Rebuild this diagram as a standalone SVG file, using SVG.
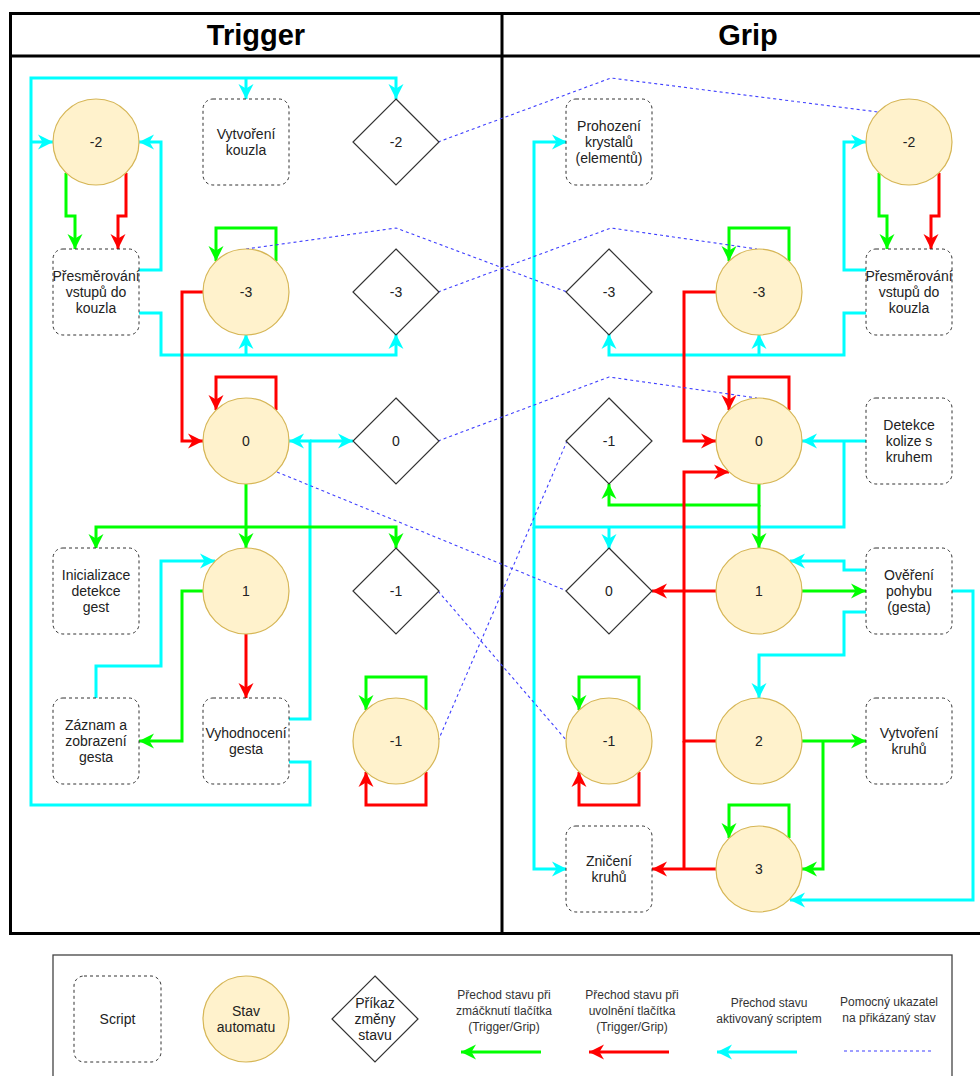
<svg xmlns="http://www.w3.org/2000/svg" width="980" height="1076" viewBox="0 0 980 1076">
<style>
text{font-family:"Liberation Sans",Arial,Helvetica,sans-serif;}
.lbl{font-size:14px;fill:#222;text-anchor:middle;}
.hdr{font-size:29px;font-weight:bold;fill:#000;text-anchor:middle;}
.leg{font-size:12px;fill:#333;text-anchor:middle;}
.panel{fill:none;stroke:#000;stroke-width:3;}
.box{fill:#fff;stroke:#333;stroke-width:1;stroke-dasharray:3 3;}
.state{fill:#fff2cc;stroke:#d6b656;stroke-width:1.2;}
.cmd{fill:#fff;stroke:#333;stroke-width:1.2;}
.g{fill:none;stroke:#00ff00;stroke-width:3;}
.r{fill:none;stroke:#ff0000;stroke-width:3;}
.c{fill:none;stroke:#00ffff;stroke-width:3;}
.ga{marker-end:url(#ag);}
.ra{marker-end:url(#ar);}
.ca{marker-end:url(#ac);}
.ptr{fill:none;stroke:#3f3fff;stroke-width:1.1;stroke-dasharray:3 3;}
</style>
<defs>
<marker id="ag" viewBox="0 0 16 16" refX="15" refY="8" markerWidth="16" markerHeight="16" markerUnits="userSpaceOnUse" orient="auto"><path d="M0,0.5 L15,8 L0,15.5 L4.5,8 Z" fill="#00ff00"/></marker>
<marker id="ar" viewBox="0 0 16 16" refX="15" refY="8" markerWidth="16" markerHeight="16" markerUnits="userSpaceOnUse" orient="auto"><path d="M0,0.5 L15,8 L0,15.5 L4.5,8 Z" fill="#ff0000"/></marker>
<marker id="ac" viewBox="0 0 16 16" refX="15" refY="8" markerWidth="16" markerHeight="16" markerUnits="userSpaceOnUse" orient="auto"><path d="M0,0.5 L15,8 L0,15.5 L4.5,8 Z" fill="#00ffff"/></marker>
</defs>
<rect width="980" height="1076" fill="#fff"/>

<g id="panels">
<rect class="panel" x="10.5" y="13.5" width="984" height="920"/>
<line class="panel" x1="10.5" y1="56" x2="995" y2="56"/>
<line class="panel" x1="502" y1="13.5" x2="502" y2="933.5"/>
<text class="hdr" x="256" y="45">Trigger</text>
<text class="hdr" x="748" y="45">Grip</text>
</g>

<g id="connectors">
<!-- Trigger -->
<path class="c" d="M289,762 H310 V805 H31 V78 H396 V99" marker-end="url(#ac)"/>
<path class="c ca" d="M31,142 H53"/>
<path class="c ca" d="M246,78 V99"/>
<path class="c ca" d="M139,270 H161 V142 H139"/>
<path class="c ca" d="M139,313 H161 V355 H396 V334"/>
<path class="c ca" d="M246,355 V334"/>
<path class="g ga" d="M66,173 V216 H75 V249"/>
<path class="r ra" d="M126,173 V216 H118 V249"/>
<path class="g ga" d="M276,261 V228 H216 V261"/>
<path class="r ra" d="M203,292 H182 V441 H203"/>
<path class="r ra" d="M276,410 V377 H216 V410"/>
<path class="c ca" d="M289,719 H310 V441 H289"/>
<path class="c ca" d="M310,441 H353"/>
<path class="g ga" d="M246,484 V527 H96 V549"/>
<path class="g ga" d="M246,527 V548"/>
<path class="g ga" d="M246,527 H396 V548"/>
<path class="c ca" d="M96,698 V666 H161 V561 H215"/>
<path class="g ga" d="M203,591 H182 V741 H139"/>
<path class="r ra" d="M246,634 V698"/>
<path class="g ga" d="M426,710 V677 H366 V710"/>
<path class="r ra" d="M426,772 V805 H366 V772"/>
<!-- Grip -->
<path class="c ca" d="M866,441 H802"/>
<path class="c ca" d="M844,441 V527 H534 V142 H567"/>
<path class="c ca" d="M609,527 V549"/>
<path class="c ca" d="M534,527 V869 H567"/>
<path class="c ca" d="M866,270 H844 V142 H866"/>
<path class="c ca" d="M866,313 H844 V355 H609 V334"/>
<path class="c ca" d="M759,355 V334"/>
<path class="g ga" d="M879,173 V216 H887 V249"/>
<path class="r ra" d="M939,173 V216 H931 V249"/>
<path class="g ga" d="M789,261 V228 H729 V261"/>
<path class="r ra" d="M716,292 H684 V441 H716"/>
<path class="r ra" d="M789,410 V377 H729 V410"/>
<path class="g ga" d="M759,484 V505 H609 V484"/>
<path class="g ga" d="M759,505 V548"/>
<path class="r ra" d="M716,741 H684 V472 H729"/>
<path class="r" d="M684,741 V869"/>
<path class="r ra" d="M716,869 H652"/>
<path class="r ra" d="M716,591 H652"/>
<path class="g ga" d="M802,591 H866"/>
<path class="c ca" d="M866,570 H844 V561 H790"/>
<path class="c ca" d="M866,612 H844 V655 H759 V698"/>
<path class="c ca" d="M952,591 H973 V900 H790"/>
<path class="g ga" d="M802,741 H866"/>
<path class="g ga" d="M823,741 V869 H802"/>
<path class="g ga" d="M789,838 V805 H729 V838"/>
<path class="g ga" d="M639,710 V677 H579 V710"/>
<path class="r ra" d="M639,772 V805 H579 V772"/>
<!-- pointers -->
<path class="ptr" d="M438,142 L611,78 L878,112"/>
<path class="ptr" d="M246,249 L396,228 L567,292"/>
<path class="ptr" d="M438,292 L611,228 L757,249"/>
<path class="ptr" d="M438,441 L609,377 L757,398"/>
<path class="ptr" d="M277,472 L567,591"/>
<path class="ptr" d="M438,591 L567,741"/>
<path class="ptr" d="M438,741 L567,441"/>
</g>

<!-- Trigger nodes -->
<g id="t-vytvoreni-kouzla"><rect class="box" x="203" y="99" width="86" height="86" rx="10"/><text class="lbl" x="246" y="139">Vytvoření</text><text class="lbl" x="246" y="155">kouzla</text></g>
<g id="t-state-m2"><circle class="state" cx="96" cy="142" r="43"/><text class="lbl" x="96" y="147">-2</text></g>
<g id="t-cmd-m2"><polygon class="cmd" points="396,99 439,142 396,185 353,142"/><text class="lbl" x="396" y="147">-2</text></g>
<g id="t-presmerovani"><rect class="box" x="53" y="249" width="86" height="86" rx="10"/><text class="lbl" x="96" y="281">Přesměrování</text><text class="lbl" x="96" y="297">vstupů do</text><text class="lbl" x="96" y="313">kouzla</text></g>
<g id="t-state-m3"><circle class="state" cx="246" cy="292" r="43"/><text class="lbl" x="246" y="297">-3</text></g>
<g id="t-cmd-m3"><polygon class="cmd" points="396,249 439,292 396,335 353,292"/><text class="lbl" x="396" y="297">-3</text></g>
<g id="t-state-0"><circle class="state" cx="246" cy="441" r="43"/><text class="lbl" x="246" y="446">0</text></g>
<g id="t-cmd-0"><polygon class="cmd" points="396,398 439,441 396,484 353,441"/><text class="lbl" x="396" y="446">0</text></g>
<g id="t-inicializace"><rect class="box" x="53" y="548" width="86" height="86" rx="10"/><text class="lbl" x="96" y="580">Inicializace</text><text class="lbl" x="96" y="596">detekce</text><text class="lbl" x="96" y="612">gest</text></g>
<g id="t-state-1"><circle class="state" cx="246" cy="591" r="43"/><text class="lbl" x="246" y="596">1</text></g>
<g id="t-cmd-m1"><polygon class="cmd" points="396,548 439,591 396,634 353,591"/><text class="lbl" x="396" y="596">-1</text></g>
<g id="t-zaznam"><rect class="box" x="53" y="698" width="86" height="86" rx="10"/><text class="lbl" x="96" y="730">Záznam a</text><text class="lbl" x="96" y="746">zobrazení</text><text class="lbl" x="96" y="762">gesta</text></g>
<g id="t-vyhodnoceni"><rect class="box" x="203" y="698" width="86" height="86" rx="10"/><text class="lbl" x="246" y="738">Vyhodnocení</text><text class="lbl" x="246" y="754">gesta</text></g>
<g id="t-state-m1"><circle class="state" cx="396" cy="741" r="43"/><text class="lbl" x="396" y="746">-1</text></g>

<!-- Grip nodes -->
<g id="g-prohozeni"><rect class="box" x="566" y="99" width="86" height="86" rx="10"/><text class="lbl" x="609" y="131">Prohození</text><text class="lbl" x="609" y="147">krystalů</text><text class="lbl" x="609" y="163">(elementů)</text></g>
<g id="g-state-m2"><circle class="state" cx="909" cy="142" r="43"/><text class="lbl" x="909" y="147">-2</text></g>
<g id="g-cmd-m3"><polygon class="cmd" points="609,249 652,292 609,335 566,292"/><text class="lbl" x="609" y="297">-3</text></g>
<g id="g-state-m3"><circle class="state" cx="759" cy="292" r="43"/><text class="lbl" x="759" y="297">-3</text></g>
<g id="g-presmerovani"><rect class="box" x="866" y="249" width="86" height="86" rx="10"/><text class="lbl" x="909" y="281">Přesměrování</text><text class="lbl" x="909" y="297">vstupů do</text><text class="lbl" x="909" y="313">kouzla</text></g>
<g id="g-cmd-m1"><polygon class="cmd" points="609,398 652,441 609,484 566,441"/><text class="lbl" x="609" y="446">-1</text></g>
<g id="g-state-0"><circle class="state" cx="759" cy="441" r="43"/><text class="lbl" x="759" y="446">0</text></g>
<g id="g-detekce"><rect class="box" x="866" y="398" width="86" height="86" rx="10"/><text class="lbl" x="909" y="430">Detekce</text><text class="lbl" x="909" y="446">kolize s</text><text class="lbl" x="909" y="462">kruhem</text></g>
<g id="g-cmd-0"><polygon class="cmd" points="609,548 652,591 609,634 566,591"/><text class="lbl" x="609" y="596">0</text></g>
<g id="g-state-1"><circle class="state" cx="759" cy="591" r="43"/><text class="lbl" x="759" y="596">1</text></g>
<g id="g-overeni"><rect class="box" x="866" y="548" width="86" height="86" rx="10"/><text class="lbl" x="909" y="580">Ověření</text><text class="lbl" x="909" y="596">pohybu</text><text class="lbl" x="909" y="612">(gesta)</text></g>
<g id="g-state-m1"><circle class="state" cx="609" cy="741" r="43"/><text class="lbl" x="609" y="746">-1</text></g>
<g id="g-state-2"><circle class="state" cx="759" cy="741" r="43"/><text class="lbl" x="759" y="746">2</text></g>
<g id="g-vytvoreni-kruhu"><rect class="box" x="866" y="698" width="86" height="86" rx="10"/><text class="lbl" x="909" y="738">Vytvoření</text><text class="lbl" x="909" y="754">kruhů</text></g>
<g id="g-zniceni"><rect class="box" x="566" y="826" width="86" height="86" rx="10"/><text class="lbl" x="609" y="866">Zničení</text><text class="lbl" x="609" y="882">kruhů</text></g>
<g id="g-state-3"><circle class="state" cx="759" cy="869" r="43"/><text class="lbl" x="759" y="874">3</text></g>

<!-- Legend -->
<g id="legend">
<rect x="53" y="955" width="899" height="130" fill="#fff" stroke="#444" stroke-width="1.3"/>
<g id="leg-script"><rect class="box" x="74" y="976" width="87" height="86" rx="10"/><text class="lbl" x="117.5" y="1024">Script</text></g>
<g id="leg-state"><circle class="state" cx="246" cy="1019" r="43"/><text class="lbl" x="246" y="1016">Stav</text><text class="lbl" x="246" y="1032">automatu</text></g>
<g id="leg-cmd"><polygon class="cmd" points="375,976 418,1019 375,1062 332,1019"/><text class="lbl" x="375" y="1008">Příkaz</text><text class="lbl" x="375" y="1024">změny</text><text class="lbl" x="375" y="1040">stavu</text></g>
<g id="leg-press"><text class="leg" x="504" y="999">Přechod stavu při</text><text class="leg" x="504" y="1015">zmáčknutí tlačítka</text><text class="leg" x="504" y="1031">(Trigger/Grip)</text><path class="g ga" d="M541,1052 H461"/></g>
<g id="leg-release"><text class="leg" x="632" y="999">Přechod stavu při</text><text class="leg" x="632" y="1015">uvolnění tlačítka</text><text class="leg" x="632" y="1031">(Trigger/Grip)</text><path class="r ra" d="M669,1052 H589"/></g>
<g id="leg-script-tr"><text class="leg" x="769" y="1007">Přechod stavu</text><text class="leg" x="769" y="1023">aktivovaný scriptem</text><path class="c ca" d="M797,1052 H717"/></g>
<g id="leg-pointer"><text class="leg" x="889" y="1006">Pomocný ukazatel</text><text class="leg" x="889" y="1022">na přikázaný stav</text><path class="ptr" d="M844,1051 H931"/></g>
</g>
</svg>
